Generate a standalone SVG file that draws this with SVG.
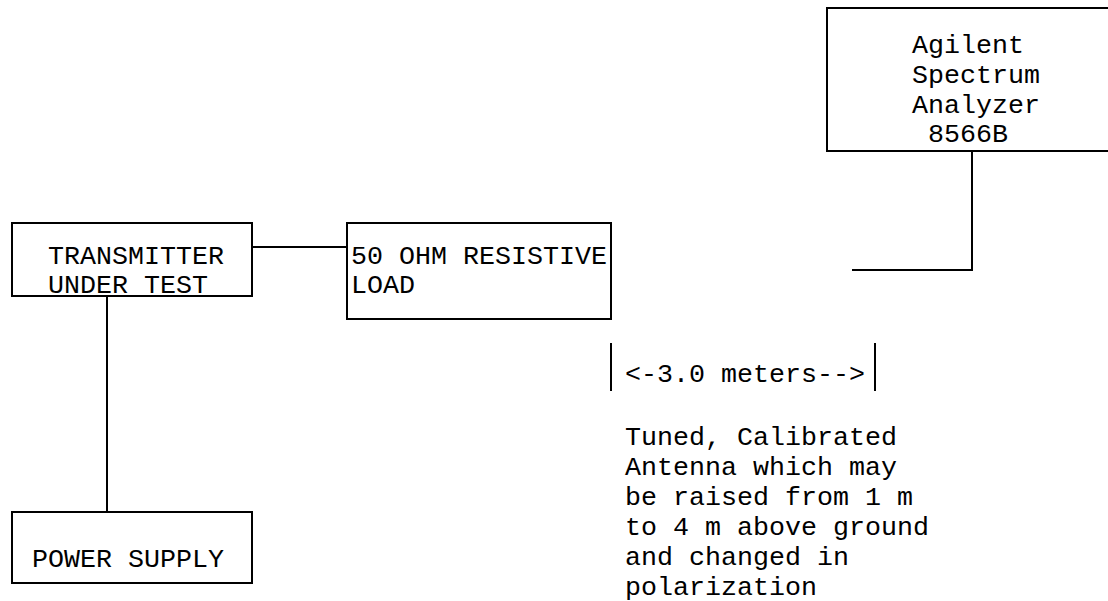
<svg xmlns="http://www.w3.org/2000/svg" width="1108" height="601" viewBox="0 0 1108 601">
<style>
.box{fill:none;stroke:#000;stroke-width:2}
.ln{fill:none;stroke:#000;stroke-width:2}
text{font-family:"Liberation Mono","Courier New",monospace;font-size:26.67px;fill:#000}
</style>
<rect width="1108" height="601" fill="#fff"/>
<g id="analyzer">
<rect class="box" x="827" y="8" width="290" height="143"/>
<text x="912" y="53">Agilent</text>
<text x="912" y="83">Spectrum</text>
<text x="912" y="113">Analyzer</text>
<text x="928" y="142">8566B</text>
</g>
<g id="transmitter">
<rect class="box" x="12" y="223" width="240" height="73"/>
<text x="48" y="264">TRANSMITTER</text>
<text x="48" y="293">UNDER TEST</text>
</g>
<g id="load">
<rect class="box" x="347" y="223" width="264" height="96"/>
<text x="351" y="264">50 OHM RESISTIVE</text>
<text x="351" y="293">LOAD</text>
</g>
<g id="power">
<rect class="box" x="12" y="512" width="240" height="71"/>
<text x="32" y="567">POWER SUPPLY</text>
</g>
<g id="distance">
<line class="ln" x1="611" y1="343" x2="611" y2="391"/>
<line class="ln" x1="875" y1="343" x2="875" y2="391"/>
<text x="625" y="382">&lt;-3.0 meters--&gt;</text>
</g>
<g id="antenna">
<text x="625" y="445">Tuned, Calibrated</text>
<text x="625" y="475">Antenna which may</text>
<text x="625" y="505">be raised from 1 m</text>
<text x="625" y="535">to 4 m above ground</text>
<text x="625" y="565">and changed in</text>
<text x="625" y="595">polarization</text>
</g>
<g id="connectors">
<line class="ln" x1="252" y1="247" x2="347" y2="247"/>
<line class="ln" x1="107" y1="296" x2="107" y2="512"/>
<polyline class="ln" points="972,151 972,270 852,270"/>
</g>
</svg>
